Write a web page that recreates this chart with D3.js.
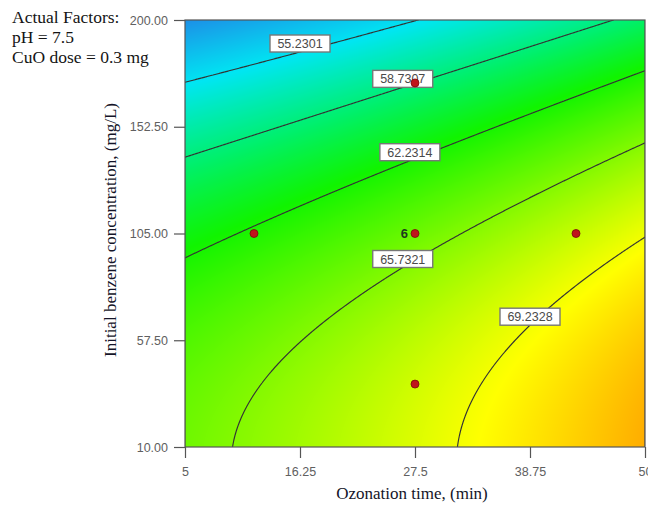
<!DOCTYPE html>
<html>
<head>
<meta charset="utf-8">
<script src="https://cdn.jsdelivr.net/npm/d3@7"></script>
<style>
  html, body { margin: 0; padding: 0; background: #fff; }
  svg { display: block; }
</style>
</head>
<body>
<script>
// ---------------- data ----------------
const xTicks = [5, 16.25, 27.5, 38.75, 50];          // Ozonation time (min)
const yTicks = [10, 57.5, 105, 152.5, 200];          // Initial benzene conc. (mg/L)
// response read at tick intersections; rows follow yTicks (bottom -> top), columns follow xTicks
const response = [
  [65.08, 66.71, 68.52, 70.51, 72.69],  // y = 10
  [64.07, 65.70, 67.51, 69.50, 71.68],  // y = 57.5
  [61.51, 63.14, 64.95, 66.94, 69.12],  // y = 105
  [57.40, 59.03, 60.84, 62.83, 65.01],  // y = 152.5
  [51.74, 53.37, 55.18, 57.17, 59.35]   // y = 200
];
const contourLevels = [55.2301, 58.7307, 62.2314, 65.7321, 69.2328];
const labelAtX = [16.25, 26.3, 27.0, 26.3, 38.75];
const designX = [11.75, 27.5, 27.5, 27.5, 43.25];
const designY = [105, 172, 105, 38, 105];
const designCount = [1, 1, 6, 1, 1];
const factorText = ["Actual Factors:", "pH = 7.5", "CuO dose = 0.3 mg"];
const xTitle = "Ozonation time, (min)";
const yTitle = "Initial benzene concentration, (mg/L)";
const colorValues = [51.5, 55.4, 59.2, 62.0, 65.0, 69.6, 73.0];
const colorStops = ["#1e8ae6", "#00e6f2", "#00f06a", "#10f400", "#6cf800", "#ffff00", "#ffa400"];

// ---------------- layout ----------------
const W = 648, H = 510;
const L = 185, R = 645, T = 20, B = 447;
const x = d3.scaleLinear().domain([5, 50]).range([L, R]);
const y = d3.scaleLinear().domain([10, 200]).range([B, T]);
const color = d3.scaleLinear().domain(colorValues).range(colorStops)
  .interpolate(d3.interpolateRgb).clamp(true);

// smooth surface through the grid (Catmull-Rom, quadratic end extension)
function ext(arr) {
  const n = arr.length;
  return [3*arr[0]-3*arr[1]+arr[2], ...arr, 3*arr[n-1]-3*arr[n-2]+arr[n-3]];
}
function cr(p0, p1, p2, p3, t) {
  return 0.5*(2*p1 + (-p0+p2)*t + (2*p0-5*p1+4*p2-p3)*t*t + (-p0+3*p1-3*p2+p3)*t*t*t);
}
function interp1(arr, f) {
  const e = ext(arr);
  const n = arr.length;
  let i = Math.floor(f); if (i < 0) i = 0; if (i > n-2) i = n-2;
  const t = f - i;
  return cr(e[i], e[i+1], e[i+2], e[i+3], t);
}
const xStep = xTicks[1]-xTicks[0], yStep = yTicks[1]-yTicks[0];
function field(xv, yv) {
  const fx = (xv - xTicks[0]) / xStep;
  const fy = (yv - yTicks[0]) / yStep;
  const rows = response.map(r => interp1(r, fx));
  return interp1(rows, fy);
}

const svg = d3.select("body").append("svg").attr("width", W).attr("height", H)
  .style("font-family", "Arial, 'Liberation Sans', sans-serif");

// ---------- colour fill ----------
const pw = R - L, ph = B - T;
const canvas = document.createElement("canvas");
canvas.width = pw; canvas.height = ph;
const ctx = canvas.getContext("2d");
const img = ctx.createImageData(pw, ph);
for (let j = 0; j < ph; j++) {
  const yv = y.invert(T + j + 0.5);
  for (let i = 0; i < pw; i++) {
    const xv = x.invert(L + i + 0.5);
    const c = d3.rgb(color(field(xv, yv)));
    const k = (j*pw + i)*4;
    img.data[k] = c.r; img.data[k+1] = c.g; img.data[k+2] = c.b; img.data[k+3] = 255;
  }
}
ctx.putImageData(img, 0, 0);
svg.append("image").attr("x", L).attr("y", T).attr("width", pw).attr("height", ph)
  .attr("preserveAspectRatio", "none").attr("href", canvas.toDataURL());

// ---------- contour lines ----------
svg.append("clipPath").attr("id", "plotclip").append("rect")
  .attr("x", L).attr("y", T).attr("width", pw).attr("height", ph);
const nx = pw + 1, ny = ph + 1;
const vals = new Array(nx*ny);
for (let j = 0; j < ny; j++) {
  const yv = y.invert(T + j);
  for (let i = 0; i < nx; i++) vals[j*nx + i] = field(x.invert(L + i), yv);
}
const contours = d3.contours().size([nx, ny]).thresholds(contourLevels)(vals);
const proj = d3.geoTransform({ point(px, py) { this.stream.point(L + px - 0.5, T + py - 0.5); } });
svg.append("g").attr("clip-path", "url(#plotclip)")
  .selectAll("path").data(contours).join("path")
  .attr("d", d3.geoPath(proj))
  .attr("fill", "none").attr("stroke", "#333").attr("stroke-width", 1.15);

// ---------- frame ----------
svg.append("rect").attr("x", L).attr("y", T).attr("width", pw).attr("height", ph)
  .attr("fill", "none").attr("stroke", "#555").attr("stroke-width", 1.2);

// ---------- contour labels ----------
function yOnLevel(xv, level) {
  let lo = 10, hi = 200;
  for (let k = 0; k < 60; k++) {
    const mid = (lo + hi) / 2;
    if (field(xv, mid) > level) lo = mid; else hi = mid;
  }
  return (lo + hi) / 2;
}
const lab = svg.append("g");
contourLevels.forEach((lv, idx) => {
  const cx = x(labelAtX[idx]);
  const cy = y(yOnLevel(labelAtX[idx], lv));
  const bw = 60, bh = 17;
  lab.append("rect").attr("x", cx - bw/2).attr("y", cy - bh).attr("width", bw).attr("height", bh)
    .attr("fill", "#fff").attr("stroke", "#777").attr("stroke-width", 1.4);
  lab.append("text").attr("x", cx).attr("y", cy - 4).attr("text-anchor", "middle")
    .attr("font-size", 12.5).attr("fill", "#4a4a4a").text(d3.format(".4f")(lv));
});

// ---------- design points ----------
const pts = d3.range(designX.length);
svg.append("g").selectAll("circle").data(pts).join("circle")
  .attr("cx", i => x(designX[i])).attr("cy", i => y(designY[i])).attr("r", 4)
  .attr("fill", "#c0141c").attr("stroke", "#7a0a0a").attr("stroke-width", 0.8);
svg.append("g").selectAll("text").data(pts.filter(i => designCount[i] > 1)).join("text")
  .attr("x", i => x(designX[i]) - 7).attr("y", i => y(designY[i]) + 4)
  .attr("text-anchor", "end").attr("font-size", 13).attr("font-weight", "bold")
  .attr("fill", "#1e3a1e").text(i => designCount[i]);

// ---------- axes ----------
const yAxis = d3.axisLeft(y).tickValues(yTicks).tickFormat(d3.format(".2f"))
  .tickSize(11).tickPadding(6).tickSizeOuter(0);
const gy = svg.append("g").attr("transform", `translate(${L},0)`).call(yAxis);
gy.select(".domain").remove();
gy.selectAll("line").attr("stroke", "#555").attr("stroke-width", 1.2);
gy.selectAll("text").attr("font-size", 12.5).attr("fill", "#606060")
  .attr("font-family", "Arial, 'Liberation Sans', sans-serif");

const xAxis = d3.axisBottom(x).tickValues(xTicks).tickFormat(d => String(d))
  .tickSize(11).tickPadding(9).tickSizeOuter(0);
const gx = svg.append("g").attr("transform", `translate(0,${B})`).call(xAxis);
gx.select(".domain").remove();
gx.selectAll("line").attr("stroke", "#555").attr("stroke-width", 1.2);
gx.selectAll("text").attr("font-size", 12.5).attr("fill", "#606060")
  .attr("font-family", "Arial, 'Liberation Sans', sans-serif");

// ---------- titles ----------
const serif = "'Liberation Serif', 'Times New Roman', serif";
svg.append("text").attr("x", 412).attr("y", 499).attr("text-anchor", "middle")
  .attr("font-family", serif).attr("font-size", 17).attr("fill", "#141428").text(xTitle);
svg.append("text").attr("transform", "translate(116,230) rotate(-90)").attr("text-anchor", "middle")
  .attr("font-family", serif).attr("font-size", 17).attr("fill", "#141428").text(yTitle);

svg.append("g").selectAll("text").data(factorText).join("text")
  .attr("x", 12).attr("y", (d, i) => 23 + i * 20)
  .attr("font-family", serif).attr("font-size", 17.5).attr("fill", "#141414").text(d => d);
</script>
</body>
</html>
